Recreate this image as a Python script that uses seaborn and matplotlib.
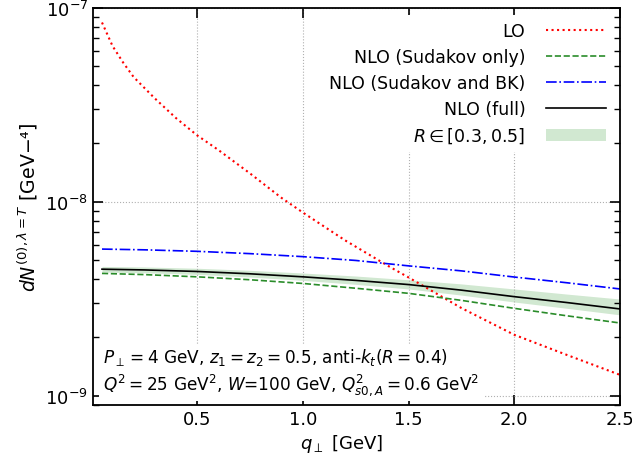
import numpy as np
import pandas as pd
import matplotlib
matplotlib.use("Agg")
import matplotlib.pyplot as plt
import seaborn as sns

# q_perp grid [GeV]
q_lo = [0.05, 0.1, 0.15, 0.2, 0.3, 0.4, 0.5, 0.6, 0.75, 0.9, 1.0, 1.2, 1.4, 1.5,
        1.75, 2.0, 2.25, 2.5]
lo = [8.4e-8, 6.35e-8, 5.22e-8, 4.39e-8, 3.41e-8, 2.70e-8, 2.20e-8, 1.85e-8,
      1.40e-8, 1.045e-8, 8.8e-9, 6.32e-9, 4.69e-9, 4.07e-9, 2.83e-9, 2.06e-9,
      1.62e-9, 1.28e-9]

q_nlo = [0.05, 0.25, 0.5, 0.75, 1.0, 1.25, 1.5, 1.75, 2.0, 2.25, 2.5]
nlo_sud = [4.27e-9, 4.21e-9, 4.10e-9, 3.96e-9, 3.79e-9, 3.58e-9, 3.37e-9,
           3.10e-9, 2.82e-9, 2.58e-9, 2.37e-9]
nlo_sud_bk = [5.70e-9, 5.65e-9, 5.55e-9, 5.40e-9, 5.21e-9, 4.98e-9, 4.67e-9,
              4.40e-9, 4.09e-9, 3.82e-9, 3.55e-9]
nlo_full = [4.49e-9, 4.45e-9, 4.37e-9, 4.25e-9, 4.10e-9, 3.93e-9, 3.74e-9,
            3.50e-9, 3.24e-9, 3.02e-9, 2.80e-9]
band_low = [4.34e-9, 4.30e-9, 4.22e-9, 4.09e-9, 3.93e-9, 3.75e-9, 3.55e-9,
            3.30e-9, 3.04e-9, 2.82e-9, 2.61e-9]
band_high = [4.64e-9, 4.61e-9, 4.54e-9, 4.43e-9, 4.29e-9, 4.14e-9, 3.96e-9,
             3.77e-9, 3.55e-9, 3.34e-9, 3.15e-9]

x_ticks = [0.5, 1.0, 1.5, 2.0, 2.5]


def make_plot():
    plt.rcParams['font.family'] = ['DejaVu Sans']
    plt.rcParams['mathtext.fontset'] = 'dejavusans'

    fig, ax = plt.subplots(figsize=(6.32, 4.64), dpi=100)
    fig.subplots_adjust(left=0.147, right=0.981, top=0.981, bottom=0.125)

    sns.lineplot(x=q_lo, y=lo, ax=ax, color='red', linestyle=':', lw=1.5,
                 label='LO')
    sns.lineplot(x=q_nlo, y=nlo_sud, ax=ax, color='#2a8c2a', linestyle='--',
                 lw=1.2, label='NLO (Sudakov only)')
    sns.lineplot(x=q_nlo, y=nlo_sud_bk, ax=ax, color='blue', linestyle='-.',
                 lw=1.2, label='NLO (Sudakov and BK)')
    sns.lineplot(x=q_nlo, y=nlo_full, ax=ax, color='black', linestyle='-',
                 lw=1.2, label='NLO (full)')
    ax.fill_between(q_nlo, band_low, band_high, color='green', alpha=0.18,
                    lw=0, label=r'$R\in[0.3, 0.5]$')

    ax.set_yscale('log')
    ax.set_xlim(0.007, 2.5)
    ax.set_ylim(8.95e-10, 1e-7)
    ax.set_xticks(x_ticks)
    ax.set_xticklabels([f"{t:.1f}" for t in x_ticks])

    ax.grid(True, which='major', color='#b0b0b0', linestyle=':', lw=0.8)
    ax.tick_params(which='both', direction='in', top=True, right=True,
                   labelsize=13, colors='black')
    ax.tick_params(which='major', length=7, width=1.2)
    ax.tick_params(which='minor', length=4, width=1.0)
    for s in ax.spines.values():
        s.set_linewidth(1.3)
        s.set_color('black')

    ax.set_xlabel(r'$q_\perp$ [GeV]', fontsize=13)
    ax.xaxis.set_label_coords(0.472, -0.067)
    ax.set_ylabel(r'$dN^{(0),\lambda=T}$ [GeV' + '\u2212\u2074]', fontsize=13.6,
                  labelpad=4)

    leg = ax.legend(loc='upper right', markerfirst=False, fontsize=12.5,
                    handlelength=3.45, labelspacing=0.46, frameon=True,
                    framealpha=1, edgecolor='white', fancybox=False,
                    borderaxespad=0.4, handletextpad=1.2)
    leg.get_frame().set_linewidth(0)

    txt = (r'$P_\perp = 4$ GeV, $z_1 = z_2 = 0.5$, anti-$k_t(R = 0.4)$' + '\n'
           + r'$Q^2 = 25$ GeV$^2$, $W$=100 GeV, $Q^2_{s0,A} = 0.6$ GeV$^2$')
    ax.text(0.02, 0.02, txt, transform=ax.transAxes, fontsize=12.2,
            va='bottom', ha='left', linespacing=1.25,
            bbox=dict(facecolor='white', edgecolor='none', pad=3), zorder=5)
    return fig


def main():
    fig = make_plot()
    fig.savefig("out.png", dpi=100)


if __name__ == "__main__":
    main()
